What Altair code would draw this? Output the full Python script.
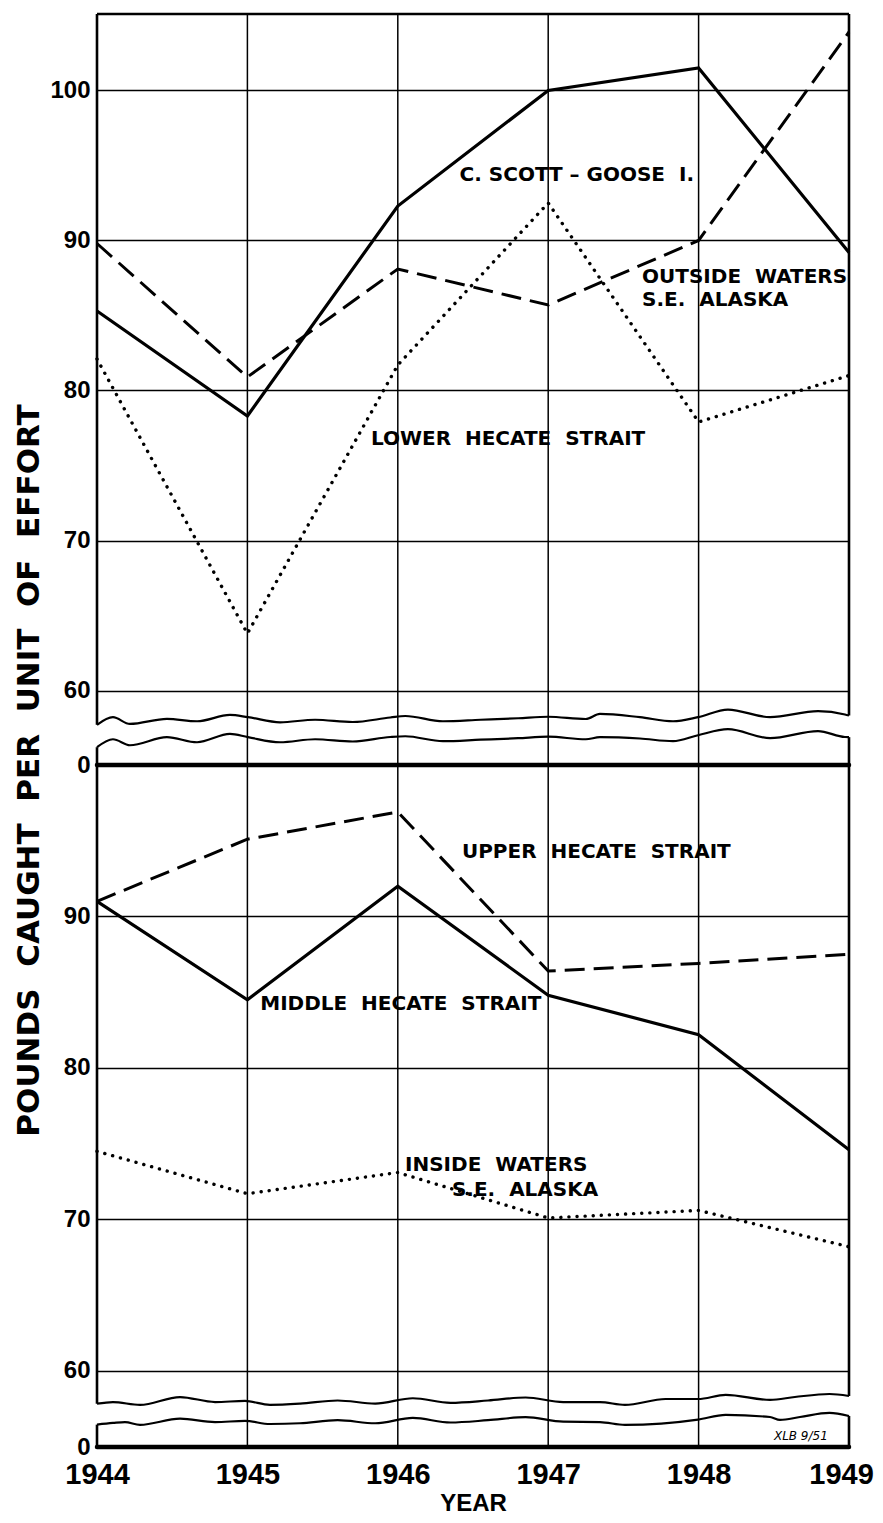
import altair as alt
import pandas as pd

# ---------------- data ----------------
years = [1944, 1945, 1946, 1947, 1948, 1949]

# upper panel
scott_goose = [85.3, 78.3, 92.3, 100.0, 101.5, 89.2]
outside_se_alaska = [89.8, 80.9, 88.1, 85.7, 90.0, 103.9]
lower_hecate = [82.1, 63.8, 81.7, 92.5, 77.9, 81.0]

# lower panel
upper_hecate = [91.0, 95.1, 96.9, 86.4, 86.9, 87.5]
middle_hecate = [91.0, 84.5, 92.0, 84.8, 82.2, 74.6]
inside_se_alaska = [74.5, 71.7, 73.1, 70.1, 70.6, 68.2]

top_ticks = [0, 60, 70, 80, 90, 100]
bot_ticks = [0, 60, 70, 80, 90]
grid_years = [1945, 1946, 1947, 1948]

# axis-break (wavy) lines
top_wave_upper_x = [1944.0, 1944.106, 1944.219, 1944.465, 1944.665, 1944.884, 1945.004, 1945.217,
                    1945.45, 1945.70, 1945.95, 1946.05, 1946.30, 1946.55, 1946.80, 1947.00, 1947.25,
                    1947.344, 1947.61, 1947.83, 1947.996, 1948.195, 1948.475, 1948.794, 1948.973, 1949.0]
top_wave_upper_v = [57.71, 58.22, 57.77, 58.11, 57.95, 58.37, 58.22, 57.88,
                    58.05, 57.90, 58.20, 58.30, 57.95, 58.05, 58.15, 58.25, 58.10,
                    58.44, 58.22, 57.95, 58.22, 58.73, 58.22, 58.62, 58.40, 58.33]
top_wave_lower_x = [1944.0, 1944.106, 1944.219, 1944.465, 1944.665, 1944.884, 1945.004, 1945.217,
                    1945.45, 1945.70, 1945.95, 1946.05, 1946.30, 1946.55, 1946.80, 1947.00, 1947.25,
                    1947.344, 1947.61, 1947.83, 1947.996, 1948.195, 1948.475, 1948.794, 1948.973, 1949.0]
top_wave_lower_v = [56.22, 56.75, 56.35, 56.89, 56.55, 57.11, 56.89, 56.55,
                    56.75, 56.60, 56.90, 56.95, 56.62, 56.72, 56.82, 56.92, 56.75,
                    56.89, 56.80, 56.62, 57.02, 57.42, 56.82, 57.29, 56.90, 56.89]

bot_wave_upper_x = [1944.0, 1944.106, 1944.286, 1944.552, 1944.785, 1944.984, 1945.150, 1945.35,
                    1945.60, 1945.85, 1946.10, 1946.35, 1946.60, 1946.85, 1947.10,
                    1947.344, 1947.51, 1947.78, 1947.996, 1948.18, 1948.475, 1948.64, 1948.87, 1949.0]
bot_wave_upper_v = [57.84, 57.95, 57.76, 58.28, 57.95, 58.02, 57.76, 57.84,
                    58.05, 57.85, 58.20, 57.90, 58.05, 58.25, 57.95,
                    57.95, 57.76, 58.15, 58.15, 58.42, 58.09, 58.28, 58.48, 58.35]
bot_wave_lower_x = [1944.0, 1944.106, 1944.186, 1944.286, 1944.552, 1944.785, 1944.984, 1945.150,
                    1945.35, 1945.60, 1945.85, 1946.10, 1946.35, 1946.60, 1946.85, 1947.10,
                    1947.344, 1947.51, 1947.996, 1948.18, 1948.475, 1948.541, 1948.674, 1948.87, 1949.0]
bot_wave_lower_v = [56.46, 56.57, 56.63, 56.44, 56.85, 56.63, 56.70, 56.50,
                    56.55, 56.75, 56.55, 56.90, 56.60, 56.75, 56.95, 56.65,
                    56.63, 56.44, 56.79, 57.10, 56.96, 56.77, 56.96, 57.23, 57.03]

G = " \u00a0"  # wide word gap as in the hand lettering

# in-plot labels
top_center_labels = ["C. SCOTT – GOOSE" + G + "I.", "LOWER" + G + "HECATE" + G + "STRAIT"]
top_center_x = [1947.19, 1946.733]
top_center_v = [94.37, 76.77]
top_left_labels = ["OUTSIDE" + G + "WATERS", "S.E." + G + "ALASKA"]
top_left_x = [1947.624, 1947.624]
top_left_v = [87.57, 86.03]

bot_center_labels = ["UPPER" + G + "HECATE" + G + "STRAIT", "MIDDLE" + G + "HECATE" + G + "STRAIT"]
bot_center_x = [1947.32, 1946.02]
bot_center_v = [94.26, 84.24]
bot_left_labels = ["INSIDE" + G + "WATERS", "S.E." + G + "ALASKA"]
bot_left_x = [1946.048, 1946.36]
bot_left_v = [73.6, 71.95]

y_title = G.join(["POUNDS", "CAUGHT", "PER", "UNIT", "OF", "EFFORT"])

# ---------------- layout ----------------
W = 752
H_TOP = 751
H_BOT = 682
TOP_MAX = 105.1
BOT_MAX = 100.0

xs = alt.Scale(domain=[1944, 1949], nice=False, zero=False)
ys_top = alt.Scale(domain=[0, 55.5, TOP_MAX], range=[H_TOP, H_TOP - 7, 0], nice=False, zero=False)
ys_bot = alt.Scale(domain=[0, 55.8, BOT_MAX], range=[H_BOT, 669.6, 0], nice=False, zero=False)

NUM_FONT = "Liberation Sans"
LAB_FONT = "DejaVu Sans"


def wave_df(ux, uv, lx, lv):
    a = pd.DataFrame({"yr": ux, "v": uv, "w": "upper"})
    b = pd.DataFrame({"yr": lx, "v": lv, "w": "lower"})
    a["o"] = range(len(a))
    b["o"] = range(len(b))
    return pd.concat([a, b], ignore_index=True)


def panel(series, styles, waves, top_val, ys, height, yaxis, xaxis,
          c_labels, c_x, c_v, l_labels, l_x, l_v, draw_top_edge, extra_text=None):
    layers = []
    # vertical grid lines (carry the axes)
    vg = pd.DataFrame({"yr": grid_years, "v": 0.0, "v2": top_val})
    layers.append(
        alt.Chart(vg).mark_rule(color="black", strokeWidth=1.5).encode(
            x=alt.X("yr:Q", scale=xs, axis=xaxis),
            y=alt.Y("v:Q", scale=ys, axis=yaxis),
            y2="v2:Q",
        )
    )
    # frame edges broken at the wavy lines
    up = waves[waves.w == "upper"]
    lo = waves[waves.w == "lower"]
    edges = pd.DataFrame({
        "yr": [1944, 1944, 1949, 1949],
        "v": [up.v.iloc[0], 0.0, up.v.iloc[-1], 0.0],
        "v2": [top_val, lo.v.iloc[0], top_val, lo.v.iloc[-1]],
    })
    layers.append(
        alt.Chart(edges).mark_rule(color="black", strokeWidth=2.6).encode(
            x=alt.X("yr:Q", scale=xs), y=alt.Y("v:Q", scale=ys), y2="v2:Q"
        )
    )
    if draw_top_edge:
        te = pd.DataFrame({"yr": [1944], "yr2": [1949], "v": [top_val]})
        layers.append(
            alt.Chart(te).mark_rule(color="black", strokeWidth=2.6).encode(
                x=alt.X("yr:Q", scale=xs), x2="yr2:Q", y=alt.Y("v:Q", scale=ys)
            )
        )
    # bold zero line
    zl = pd.DataFrame({"yr": [1944], "yr2": [1949], "v": [0.0]})
    layers.append(
        alt.Chart(zl).mark_rule(color="black", strokeWidth=4.5, strokeCap="round").encode(
            x=alt.X("yr:Q", scale=xs), x2="yr2:Q", y=alt.Y("v:Q", scale=ys)
        )
    )
    # wavy break lines
    layers.append(
        alt.Chart(waves).mark_line(color="black", strokeWidth=2.2, interpolate="monotone").encode(
            x=alt.X("yr:Q", scale=xs), y=alt.Y("v:Q", scale=ys), detail="w:N", order="o:Q"
        )
    )
    # data series
    for vals, st in zip(series, styles):
        df = pd.DataFrame({"yr": years, "v": vals})
        layers.append(
            alt.Chart(df).mark_line(color="black", **st).encode(
                x=alt.X("yr:Q", scale=xs), y=alt.Y("v:Q", scale=ys)
            )
        )
    # labels
    cdf = pd.DataFrame({"yr": c_x, "v": c_v, "t": c_labels})
    layers.append(
        alt.Chart(cdf).mark_text(font=LAB_FONT, fontSize=20, fontWeight="bold", color="black",
                                 align="center", baseline="middle").encode(
            x=alt.X("yr:Q", scale=xs), y=alt.Y("v:Q", scale=ys), text="t:N"
        )
    )
    ldf = pd.DataFrame({"yr": l_x, "v": l_v, "t": l_labels})
    layers.append(
        alt.Chart(ldf).mark_text(font=LAB_FONT, fontSize=20, fontWeight="bold", color="black",
                                 align="left", baseline="middle").encode(
            x=alt.X("yr:Q", scale=xs), y=alt.Y("v:Q", scale=ys), text="t:N"
        )
    )
    if extra_text is not None:
        layers.append(extra_text)
    return alt.layer(*layers).properties(width=W, height=height)


solid = dict(strokeWidth=3.2)
dashed = dict(strokeWidth=3.0, strokeDash=[20, 9])
dotted = dict(strokeWidth=3.4, strokeDash=[0.1, 8], strokeCap="round")

top_yaxis = alt.Axis(
    values=top_ticks, grid=True, ticks=False, domain=False,
    labelFont=NUM_FONT, labelFontSize=24, labelFontWeight="bold", labelColor="black", labelPadding=7,
    title=y_title,
    titleFont=LAB_FONT, titleFontSize=31, titleFontWeight="bold", titleColor="black",
    titleX=-68, titleY=756, titleAngle=-90, titleAlign="center", titleBaseline="middle",
)
bot_yaxis = alt.Axis(
    values=bot_ticks, grid=True, ticks=False, domain=False,
    labelFont=NUM_FONT, labelFontSize=24, labelFontWeight="bold", labelColor="black", labelPadding=7,
    title=None,
)
bot_xaxis = alt.Axis(
    values=years, format="d", grid=False, ticks=False, domain=False, labelFlush=False,
    labelOffset={"condition": {"test": "datum.value == 1949", "value": -8}, "value": 0},
    labelFont=NUM_FONT, labelFontSize=29, labelFontWeight="bold", labelColor="black", labelPadding=13,
    title="YEAR", titleFont=NUM_FONT, titleFontSize=24, titleFontWeight="bold", titleColor="black",
    titlePadding=2,
)

sig = alt.Chart(pd.DataFrame({"yr": [1948.68], "v": [0.0], "t": ["XLB 9/51"]})).mark_text(
    font="DejaVu Sans", fontSize=12, fontStyle="italic", color="black", align="center",
    baseline="bottom", dy=-4
).encode(x=alt.X("yr:Q", scale=xs), y=alt.Y("v:Q", scale=ys_bot), text="t:N")

top_panel = panel(
    [scott_goose, outside_se_alaska, lower_hecate], [solid, dashed, dotted],
    wave_df(top_wave_upper_x, top_wave_upper_v, top_wave_lower_x, top_wave_lower_v),
    TOP_MAX, ys_top, H_TOP, top_yaxis, None,
    top_center_labels, top_center_x, top_center_v,
    top_left_labels, top_left_x, top_left_v, True,
)
bot_panel = panel(
    [upper_hecate, middle_hecate, inside_se_alaska], [dashed, solid, dotted],
    wave_df(bot_wave_upper_x, bot_wave_upper_v, bot_wave_lower_x, bot_wave_lower_v),
    BOT_MAX, ys_bot, H_BOT, bot_yaxis, bot_xaxis,
    bot_center_labels, bot_center_x, bot_center_v,
    bot_left_labels, bot_left_x, bot_left_v, False, extra_text=sig,
)

chart = alt.vconcat(top_panel, bot_panel, spacing=0, bounds="flush").properties(
    padding={"left": 5, "top": 4, "right": 0, "bottom": 0}
).configure_view(stroke=None).configure_axis(
    gridColor="black", gridOpacity=1, gridWidth=1.4
)

chart.save("out.html", embed_options={"renderer": "svg", "actions": False})
